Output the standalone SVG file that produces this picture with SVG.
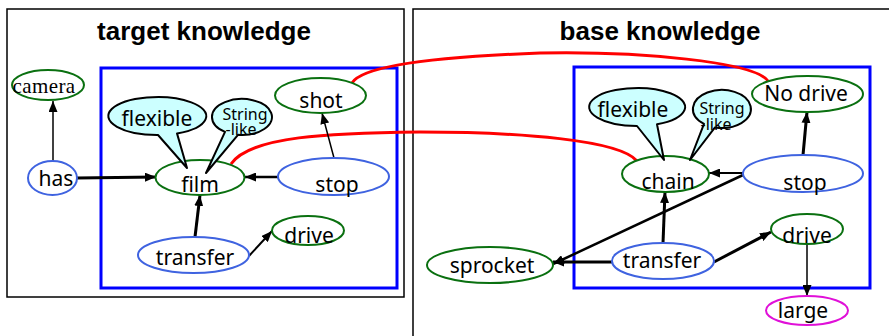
<svg xmlns="http://www.w3.org/2000/svg" width="889" height="336" viewBox="0 0 889 336">
<style>
.panel{fill:none;stroke:#000;stroke-width:1.5}
.frame{fill:none;stroke:#0000ff;stroke-width:3}
.title{font-family:"Liberation Sans",Arial,sans-serif;font-weight:bold;font-size:26px;text-anchor:middle;fill:#000}
.g{fill:#fff;stroke:#0a7010;stroke-width:2}
.b{fill:#fff;stroke:#3f63e0;stroke-width:2}
.m{fill:#fff;stroke:#e010d8;stroke-width:2}
.call{fill:#ccffff;stroke:#000;stroke-width:2;stroke-linejoin:round}
.t{font-family:"Noto Sans","Liberation Sans",sans-serif;font-size:21px;text-anchor:middle;fill:#000}
.ts{font-family:"Noto Sans","Liberation Sans",sans-serif;font-size:16px;text-anchor:middle;fill:#000}
.serif{font-family:"Liberation Serif","Times New Roman",serif;font-size:21px;text-anchor:middle;fill:#000}
.e{fill:none;stroke:#000;marker-end:url(#ah)}
.red{fill:none;stroke:#ff0000;stroke-width:3}
</style>
<defs>
<marker id="ah" markerUnits="userSpaceOnUse" markerWidth="11" markerHeight="9" refX="11" refY="4.5" orient="auto">
<path d="M0,0 L11,4.5 L0,9 z" fill="#000"/>
</marker>
</defs>
<rect width="889" height="336" fill="#fff"/>
<rect class="panel" x="7" y="9" width="397" height="288"/>
<rect class="panel" x="413" y="9" width="500" height="360"/>
<text class="title" x="204" y="40">target knowledge</text>
<text class="title" x="660" y="40">base knowledge</text>
<rect class="frame" x="101" y="68" width="296" height="220"/>
<rect class="frame" x="574" y="67" width="296" height="221"/>

<g id="connectors">
<path class="red" d="M231,164 C250,136 330,133 420,132 C520,132 620,140 637,161"/>
<path class="red" d="M352,83 C362,66 430,57 540,53 C640,51 755,62 768,81"/>
<path class="e" style="stroke-width:1.5" d="M53,161 L53,101"/>
<path class="e" style="stroke-width:3" d="M77,178 L156,177"/>
<path class="e" style="stroke-width:2.5" d="M278,177 L245,177"/>
<path class="e" style="stroke-width:1.5" d="M334,158 L322,113"/>
<path class="e" style="stroke-width:3" d="M195,237 L200,195"/>
<path class="e" style="stroke-width:2" d="M249,256 L272,231"/>
<path class="e" style="stroke-width:3" d="M803,155 L807,112"/>
<path class="e" style="stroke-width:2" d="M743,173 L709,173"/>
<path class="e" style="stroke-width:2.5" d="M743,175 L553,264"/>
<path class="e" style="stroke-width:3" d="M663,243 L665,192"/>
<path class="e" style="stroke-width:3" d="M612,262 L553,262"/>
<path class="e" style="stroke-width:3" d="M714,262 L771,232"/>
<path class="e" style="stroke-width:1.5" d="M807,244 L807,296"/>
</g>

<g id="camera"><ellipse class="g" cx="48" cy="85" rx="36" ry="15"/><text class="serif" x="44" y="93" letter-spacing="0.4">camera</text></g>
<g id="has"><ellipse class="b" cx="52.5" cy="178" rx="24.5" ry="17"/><text class="t" x="56" y="186">has</text></g>
<g id="film"><ellipse class="g" cx="200" cy="177.5" rx="44.5" ry="17.5"/><text class="t" x="200" y="192">film</text></g>
<g id="shot"><ellipse class="g" cx="320.5" cy="95.5" rx="45.5" ry="17.5"/><text class="t" x="321" y="108">shot</text></g>
<g id="stop-t"><ellipse class="b" cx="333.5" cy="176.5" rx="55.5" ry="18.5"/><text class="t" x="337" y="192">stop</text></g>
<g id="drive-t"><ellipse class="g" cx="308" cy="230.5" rx="36" ry="14.5"/><text class="t" x="309" y="243">drive</text></g>
<g id="transfer-t"><ellipse class="b" cx="193.5" cy="255" rx="55.5" ry="18"/><text class="t" x="195" y="265">transfer</text></g>
<g id="flexible-t"><path class="call" d="M177,133.4 A49 19 0 1 0 158,135 L187,168 Z"/><text class="t" x="157" y="126">flexible</text></g>
<g id="stringlike-t"><path class="call" d="M238,134.8 A30 18 0 1 0 225,131.8 L206,173 Z"/><text class="ts"><tspan x="245" y="119.5">String</tspan><tspan x="241" y="135">-like</tspan></text></g>

<g id="nodrive"><ellipse class="g" cx="807.5" cy="94" rx="55.5" ry="18"/><text class="t" x="806" y="101">No drive</text></g>
<g id="chain"><ellipse class="g" cx="665.5" cy="174" rx="43.5" ry="18"/><text class="t" x="668" y="189">chain</text></g>
<g id="stop-b"><ellipse class="b" cx="803" cy="173.5" rx="60" ry="18.5"/><text class="t" x="805" y="190">stop</text></g>
<g id="drive-b"><ellipse class="g" cx="807" cy="229" rx="36" ry="15"/><text class="t" x="807" y="243">drive</text></g>
<g id="transfer-b"><ellipse class="b" cx="663" cy="261" rx="51" ry="18"/><text class="t" x="662" y="268">transfer</text></g>
<g id="sprocket"><ellipse class="g" cx="490" cy="265" rx="63" ry="18"/><text class="t" x="492" y="273">sprocket</text></g>
<g id="large"><ellipse class="m" cx="807" cy="310.5" rx="41" ry="14.5"/><text class="t" x="803" y="318">large</text></g>
<g id="flexible-b"><path class="call" d="M657,124.3 A48 19 0 1 0 637,126 L664,160 Z"/><text class="t" x="633" y="117">flexible</text></g>
<g id="stringlike-b"><path class="call" d="M715,127.4 A29 19 0 1 0 704,123.9 L690,160 Z"/><text class="ts"><tspan x="722" y="114">String</tspan><tspan x="716" y="129.5">-like</tspan></text></g>
</svg>
